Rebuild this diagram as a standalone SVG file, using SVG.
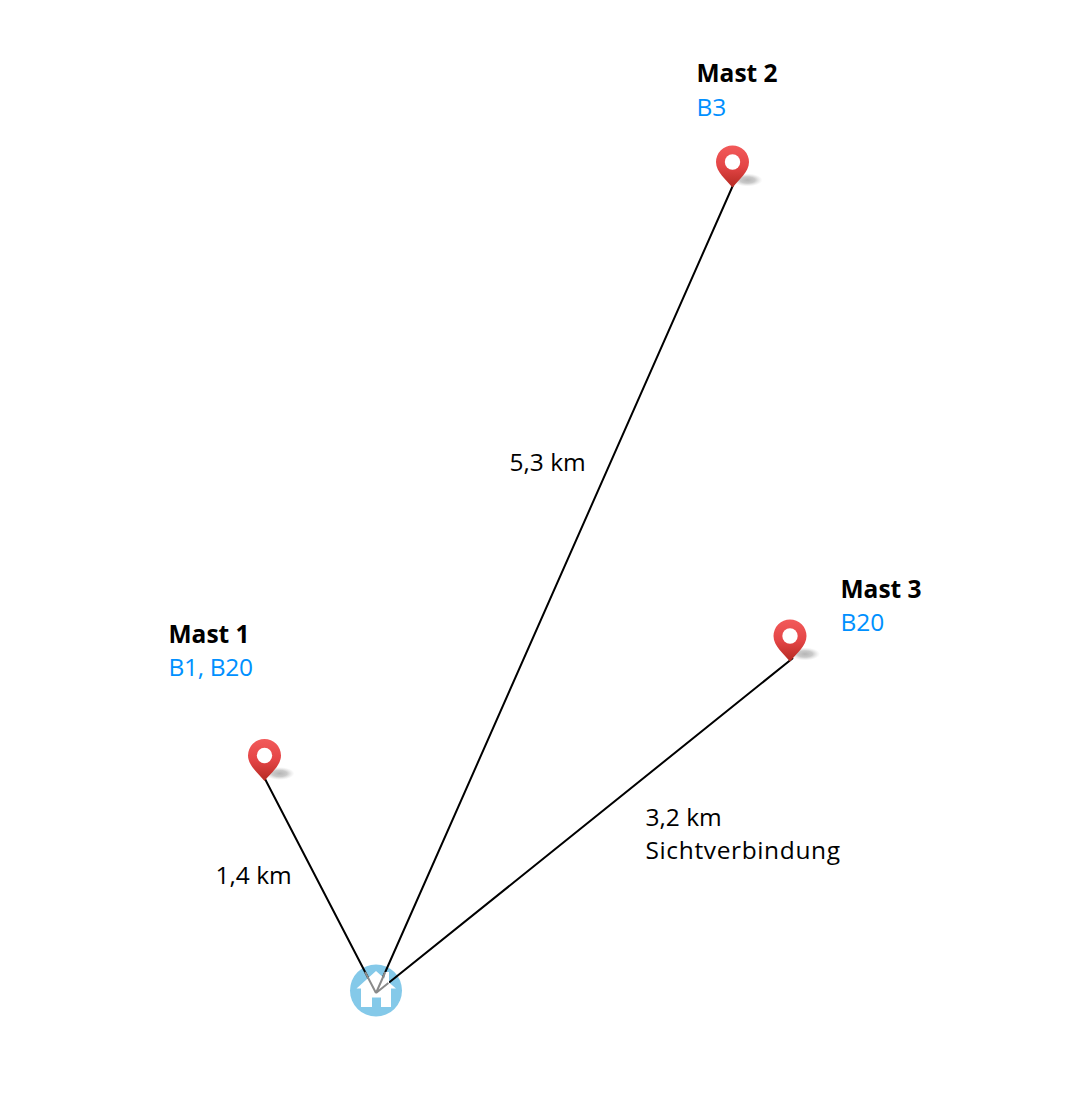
<svg xmlns="http://www.w3.org/2000/svg" width="1068" height="1113" viewBox="0 0 1068 1113">
<style>
text{font-family:"Open Sans","Noto Sans",sans-serif;font-size:24.5px;fill:#000}
.t{font-weight:700}
.b{fill:#0090ff}
.c{stroke:#000;stroke-width:2;fill:none}
.g{stroke:#8a8a8a;stroke-width:2;fill:none}
</style>
<defs>
<linearGradient id="pg" x1="0" y1="0" x2="0" y2="1"><stop offset="0" stop-color="#f25a5a"/><stop offset=".5" stop-color="#e44546"/><stop offset="1" stop-color="#b52a22"/></linearGradient>
<radialGradient id="sh"><stop offset="0" stop-color="#b5b5b5"/><stop offset=".5" stop-color="#c4c4c4" stop-opacity=".9"/><stop offset="1" stop-color="#ddd" stop-opacity="0"/></radialGradient>
<g id="pin">
<ellipse cx="15" cy="18" rx="15" ry="6.500" fill="url(#sh)"/>
<path d="M0 25.500C-6 18-16.500 10-16.500 0A16.500 16.500 0 0 1 16.500 0C16.500 10 6 18 0 25.500Z" fill="url(#pg)"/>
<circle cx="0" cy="0" r="7.700" fill="#fff"/>
</g>
</defs>
<g id="home-bg"><circle cx="376" cy="990.500" r="26" fill="#84c9e9"/></g>
<g id="connectors">
<path class="c" d="M264 777L376 993M734 183L376 993M793 658L376 993"/>
</g>
<g id="home">
<path fill="#fff" d="M376 971L384.500 978.500V972H389V982.500L396 988.500H391V1007H381V997.500H372V1007H361V988.500H356.500Z"/>
<path class="g" d="M365.100 972L376 993M385.300 972L376 993M388.400 983L376 993"/>
</g>
<g id="mast1">
<use href="#pin" x="264.500" y="755.500"/>
<text class="t" x="168.500" y="642.500">Mast 1</text>
<text class="b" x="168.500" y="676" textLength="84.500">B1, B20</text>
</g>
<g id="mast2">
<use href="#pin" x="732.500" y="162"/>
<text class="t" x="696.500" y="81.500">Mast 2</text>
<text class="b" x="696.500" y="115.500">B3</text>
</g>
<g id="mast3">
<use href="#pin" x="790" y="636"/>
<text class="t" x="840.500" y="597.500">Mast 3</text>
<text class="b" x="840.500" y="631">B20</text>
</g>
<g id="labels">
<text x="215.500" y="884">1,4 km</text>
<text x="509.500" y="471">5,3 km</text>
<text x="645.500" y="826">3,2 km</text>
<text x="645.500" y="859" textLength="194.500">Sichtverbindung</text>
</g>
</svg>
